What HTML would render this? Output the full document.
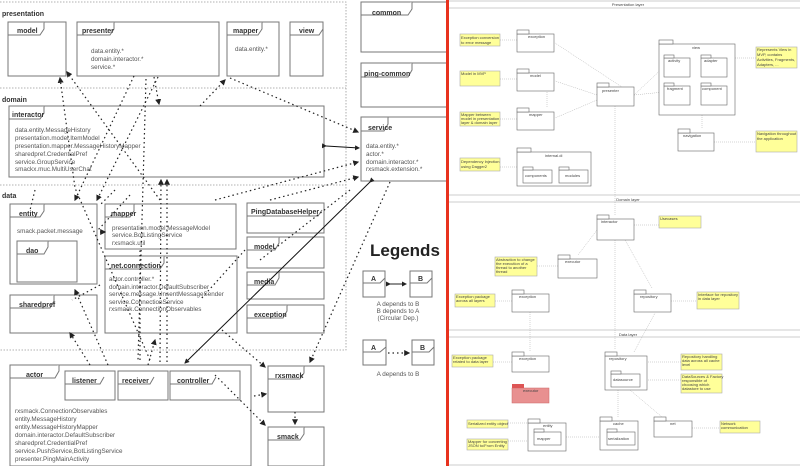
<!DOCTYPE html><html><head><meta charset="utf-8"><style>
body{margin:0;background:#fff;width:800px;height:466px;overflow:hidden}
svg{font-family:"Liberation Sans",sans-serif}
.b{fill:#fff;stroke:#777;stroke-width:1}
.t{font-size:7px;font-weight:bold;fill:#333}
.s{font-size:6.3px;fill:#555}
.d{stroke:#222;stroke-width:1.2;stroke-dasharray:1.5 3;fill:none}
.r{font-size:4px;fill:#444}
.n{fill:#ffff99;stroke:#aaa;stroke-width:.6}
.p{fill:#fff;stroke:#666;stroke-width:.6}
.g{stroke:#aaa;stroke-width:.5;stroke-dasharray:1 1;fill:none}
</style></head><body>
<svg width="800" height="466" viewBox="0 0 800 466">
<defs><marker id="a" markerWidth="5" markerHeight="5" refX="4" refY="2.5" orient="auto"><path d="M0,0L5,2.5L0,5z" fill="#222"/></marker></defs>
<!-- regions -->
<path d="M0,2H346V350H0M0,88H346M0,185H346" stroke="#999" stroke-dasharray="1.5 1.5" fill="none" stroke-width=".8"/>
<text x="2" y="16" class="t">presentation</text><text x="2" y="102" class="t">domain</text><text x="2" y="198" class="t">data</text>
<g id="pk">
<rect class="b" x="8" y="22" width="58" height="54"/><path d="M8,35H40L44,29V22" class="b"/><text x="17" y="33" class="t">model</text>
<rect class="b" x="77" y="22" width="142" height="54"/><path d="M77,35H110L114,29V22" class="b"/><text x="82" y="33" class="t">presenter</text>
<text x="91" y="53" class="s">data.entity.*</text><text x="91" y="61" class="s">domain.interactor.*</text><text x="91" y="69" class="s">service.*</text>
<rect class="b" x="227" y="22" width="52" height="54"/><path d="M227,35H258L262,29V22" class="b"/><text x="233" y="33" class="t">mapper</text><text x="235" y="51" class="s">data.entity.*</text>
<rect class="b" x="290" y="22" width="33" height="54"/><path d="M290,35H319L323,29" class="b"/><text x="299" y="33" class="t">view</text>
<rect class="b" x="9" y="106" width="315" height="71"/><path d="M9,119H40L44,113V106" class="b"/><text x="12" y="117" class="t">interactor</text>
<text x="15" y="132" class="s">data.entity.MessageHistory</text><text x="15" y="140" class="s">presentation.model.ItemModel</text><text x="15" y="148" class="s">presentation.mapper.MessageHistoryMapper</text><text x="15" y="156" class="s">sharedpref.CredentialPref</text><text x="15" y="164" class="s">service.GroupService</text><text x="15" y="171" class="s">smackx.muc.MultiUserChat</text>
<rect class="b" x="361" y="2" width="86" height="50"/><path d="M361,15H408L412,9V2" class="b"/><text x="372" y="15" class="t">common</text>
<rect class="b" x="361" y="63" width="86" height="44"/><path d="M361,77H408L412,70V63" class="b"/><text x="364" y="76" class="t">ping-common</text>
<rect class="b" x="361" y="117" width="86" height="64"/><path d="M361,131H384L388,124V117" class="b"/><text x="368" y="130" class="t">service</text>
<text x="366" y="148" class="s">data.entity.*</text><text x="366" y="156" class="s">actor.*</text><text x="366" y="164" class="s">domain.interactor.*</text><text x="366" y="171" class="s">rxsmack.extension.*</text>
<rect class="b" x="10" y="204" width="87" height="80"/><path d="M10,217H40L44,211V204" class="b"/><text x="19" y="216" class="t">entity</text><text x="17" y="233" class="s">smack.packet.message</text>
<rect class="b" x="17" y="241" width="60" height="41"/><path d="M17,254H44L48,247V241" class="b"/><text x="26" y="253" class="t">dao</text>
<rect class="b" x="105" y="204" width="131" height="45"/><path d="M105,217H130L134,211V204" class="b"/><text x="111" y="216" class="t">mapper</text>
<text x="112" y="230" class="s">presentation.model.MessageModel</text><text x="112" y="237" class="s">service.BotListingService</text><text x="112" y="245" class="s">rxsmack.util</text>
<rect class="b" x="105" y="256" width="132" height="77"/><path d="M105,269H160L164,263V256" class="b"/><text x="111" y="268" class="t">net.connection</text>
<text x="109" y="281" class="s">actor.controller.*</text><text x="109" y="289" class="s">domain.interactor.DefaultSubscriber</text><text x="109" y="296" class="s">service.message.UnsentMessageSender</text><text x="109" y="304" class="s">service.ConnectionService</text><text x="109" y="311" class="s">rxsmack.ConnectionObservables</text>
<rect class="b" x="247" y="203" width="77" height="30"/><path d="M247,216H318L322,210" class="b"/><text x="251" y="214" class="t">PingDatabaseHelper</text>
<rect class="b" x="247" y="237" width="77" height="31"/><path d="M247,250H275L279,243V237" class="b"/><text x="254" y="249" class="t">model</text>
<rect class="b" x="247" y="272" width="77" height="27"/><path d="M247,285H275L279,278V272" class="b"/><text x="254" y="284" class="t">media</text>
<rect class="b" x="247" y="305" width="77" height="28"/><path d="M247,318H283L287,311V305" class="b"/><text x="254" y="317" class="t">exception</text>
<rect class="b" x="10" y="295" width="87" height="38"/><path d="M10,308H50L54,301V295" class="b"/><text x="19" y="307" class="t">sharedpref</text>
<rect class="b" x="10" y="365" width="241" height="101"/><path d="M10,378H55L59,371V365" class="b"/><text x="26" y="377" class="t">actor</text>
<rect class="b" x="65" y="371" width="50" height="29"/><path d="M65,384H100L104,377" class="b"/><text x="72" y="383" class="t">listener</text>
<rect class="b" x="118" y="371" width="50" height="29"/><path d="M118,384H150L154,377" class="b"/><text x="122" y="383" class="t">receiver</text>
<rect class="b" x="170" y="371" width="70" height="29"/><path d="M170,384H212L216,377" class="b"/><text x="177" y="383" class="t">controller</text>
<text x="15" y="413" class="s">rxsmack.ConnectionObservables</text><text x="15" y="421" class="s">entity.MessageHistory</text><text x="15" y="429" class="s">entity.MessageHistoryMapper</text><text x="15" y="437" class="s">domain.interactor.DefaultSubscriber</text><text x="15" y="445" class="s">sharedpref.CredentialPref</text><text x="15" y="453" class="s">service.PushService,BotListingService</text><text x="15" y="461" class="s">presenter.PingMainActivity</text>
<rect class="b" x="268" y="366" width="56" height="46"/><path d="M268,379H300L304,373V366" class="b"/><text x="275" y="378" class="t">rxsmack</text>
<rect class="b" x="268" y="427" width="56" height="39"/><path d="M268,440H300L304,434V427" class="b"/><text x="277" y="439" class="t">smack</text>
</g>
<!-- legend -->
<text x="370" y="256" font-size="17" font-weight="bold" fill="#222">Legends</text>
<rect class="b" x="363" y="271" width="22" height="26"/><path d="M363,283H380L385,278" class="b"/><text x="371" y="281" class="t">A</text>
<rect class="b" x="410" y="271" width="22" height="26"/><path d="M410,283H427L432,278" class="b"/><text x="418" y="281" class="t">B</text>
<line x1="390" y1="284" x2="406" y2="284" stroke="#222" marker-end="url(#a)" marker-start="url(#a)"/>
<text x="398" y="306" class="s" text-anchor="middle">A depends to B</text><text x="398" y="313" class="s" text-anchor="middle">B depends to A</text><text x="398" y="320" class="s" text-anchor="middle">(Circular Dep.)</text>
<rect class="b" x="363" y="340" width="23" height="25"/><path d="M363,352H380L386,347" class="b"/><text x="371" y="350" class="t">A</text>
<rect class="b" x="412" y="340" width="22" height="25"/><path d="M412,352H429L434,347" class="b"/><text x="420" y="350" class="t">B</text>
<line x1="388" y1="353" x2="409" y2="353" class="d" marker-end="url(#a)"/>
<text x="398" y="376" class="s" text-anchor="middle">A depends to B</text>
<!-- arrows left -->
<g class="d">
<path d="M134,76L75,200" marker-end="url(#a)"/><path d="M158,77L97,200" marker-end="url(#a)"/><path d="M146,79L138,360"/><path d="M154,77L159,104" marker-end="url(#a)"/>
<path d="M200,106L225,80" marker-end="url(#a)"/><path d="M230,78L358,132" marker-end="url(#a)"/>
<path d="M160,200L67,72" marker-end="url(#a)"/><path d="M150,360L75,188L60,78" marker-end="url(#a)"/>
<path d="M160,362L161,180" marker-end="url(#a)"/><path d="M167,362L167,180" marker-end="url(#a)"/>
<path d="M215,200L358,162" marker-end="url(#a)"/><path d="M270,200L358,177" marker-end="url(#a)"/>
<path d="M100,232L105,232" marker-end="url(#a)"/><path d="M130,195L98,230"/><path d="M245,250L200,300"/>
<path d="M35,190L30,210"/><path d="M115,190L100,205"/>
<path d="M90,365L70,333" marker-end="url(#a)"/><path d="M108,365L75,290" marker-end="url(#a)"/>
<path d="M100,285L72,300" /><path d="M140,360L140,250"/><path d="M148,365L155,340" marker-end="url(#a)"/>
<path d="M222,330L265,367" marker-end="url(#a)"/><path d="M215,375L265,425" marker-end="url(#a)"/>
<path d="M254,396L266,394" marker-end="url(#a)"/><path d="M295,412L295,424" marker-end="url(#a)"/>
<path d="M390,182L310,362" marker-end="url(#a)"/><path d="M350,190L260,260"/>
</g>
<path d="M370,182L185,363" stroke="#111" stroke-width="1" marker-end="url(#a)" marker-start="url(#a)" fill="none"/>
<line x1="326" y1="146" x2="359" y2="148" stroke="#111" marker-end="url(#a)" marker-start="url(#a)"/>
<!-- red line -->
<rect x="446" y="0" width="3" height="466" fill="#e8321e"/>
<!-- right diagram -->
<g>
<path d="M449,1H800M449,8H800M449,195H800M449,202H800M449,330H800M449,337H800M449,465H800" stroke="#999" stroke-width=".6"/>
<text x="628" y="6" class="r" text-anchor="middle">Presentation layer</text>
<text x="628" y="201" class="r" text-anchor="middle">Domain layer</text>
<text x="628" y="336" class="r" text-anchor="middle">Data layer</text>
<g class="g">
<path d="M500,40H517M500,79H517M500,119H517M500,167H517M735,58H756M714,142H756M634,95L555,43M597,95L555,81M597,100L555,118M634,95L667,64M634,95L664,92M615,106V215M702,115V128M634,225H659M597,230L578,255M537,266H558M495,301H512M671,301H697M615,240V350M625,240L652,288M530,312V352M493,362H512M640,362H681M640,380H681M508,423H528M508,441H534M560,437H607M618,390V417M630,390L662,417M692,428H720M634,352L655,313M547,92V108"/>
</g>
<g class="p">
<rect x="517" y="34" width="37" height="18"/><rect x="517" y="30" width="12" height="4"/>
<rect x="517" y="73" width="37" height="18"/><rect x="517" y="69" width="12" height="4"/>
<rect x="517" y="112" width="37" height="18"/><rect x="517" y="108" width="12" height="4"/>
<rect x="517" y="152" width="74" height="34"/><rect x="517" y="148" width="14" height="4"/>
<rect x="523" y="170" width="29" height="13"/><rect x="523" y="167" width="10" height="3"/>
<rect x="559" y="170" width="29" height="13"/><rect x="559" y="167" width="10" height="3"/>
<rect x="597" y="87" width="37" height="19"/><rect x="597" y="83" width="12" height="4"/>
<rect x="659" y="44" width="76" height="71"/><rect x="659" y="40" width="14" height="4"/>
<rect x="664" y="58" width="26" height="19"/><rect x="664" y="55" width="10" height="3"/>
<rect x="701" y="58" width="26" height="19"/><rect x="701" y="55" width="10" height="3"/>
<rect x="664" y="86" width="26" height="19"/><rect x="664" y="83" width="10" height="3"/>
<rect x="701" y="86" width="26" height="19"/><rect x="701" y="83" width="10" height="3"/>
<rect x="678" y="133" width="36" height="18"/><rect x="678" y="129" width="12" height="4"/>
<rect x="597" y="219" width="37" height="21"/><rect x="597" y="215" width="12" height="4"/>
<rect x="558" y="259" width="39" height="19"/><rect x="558" y="255" width="12" height="4"/>
<rect x="512" y="294" width="37" height="18"/><rect x="512" y="290" width="12" height="4"/>
<rect x="634" y="294" width="37" height="18"/><rect x="634" y="290" width="12" height="4"/>
<rect x="512" y="356" width="37" height="16"/><rect x="512" y="352" width="12" height="4"/>
<rect x="605" y="356" width="42" height="34"/><rect x="605" y="352" width="12" height="4"/>
<rect x="611" y="374" width="29" height="13"/><rect x="611" y="371" width="10" height="3"/>
<rect x="528" y="423" width="38" height="28"/><rect x="528" y="419" width="12" height="4"/>
<rect x="534" y="432" width="27" height="13"/><rect x="534" y="429" width="10" height="3"/>
<rect x="600" y="421" width="38" height="29"/><rect x="600" y="417" width="12" height="4"/>
<rect x="607" y="432" width="28" height="13"/><rect x="607" y="429" width="10" height="3"/>
<rect x="654" y="421" width="38" height="16"/><rect x="654" y="417" width="12" height="4"/>
</g>
<rect x="512" y="388" width="37" height="15" fill="#e89090" stroke="#c66" stroke-width=".5"/><rect x="512" y="384" width="12" height="4" fill="#d55" />
<g class="n">
<rect x="460" y="34" width="40" height="12"/><rect x="460" y="71" width="40" height="15"/><rect x="460" y="112" width="40" height="14"/><rect x="460" y="158" width="40" height="13"/>
<rect x="756" y="47" width="41" height="21"/><rect x="756" y="131" width="41" height="21"/><rect x="659" y="216" width="42" height="12"/>
<rect x="495" y="257" width="42" height="19"/><rect x="455" y="294" width="40" height="13"/><rect x="697" y="292" width="42" height="17"/>
<rect x="452" y="355" width="41" height="12"/><rect x="681" y="354" width="41" height="16"/><rect x="681" y="374" width="41" height="19"/>
<rect x="467" y="420" width="41" height="8"/><rect x="467" y="439" width="41" height="11"/><rect x="720" y="421" width="40" height="12"/>
</g>
<g class="r">
<text x="528" y="38">exception</text><text x="530" y="77">model</text><text x="529" y="116">mapper</text><text x="545" y="157">internal.di</text>
<text x="525" y="177">components</text><text x="565" y="177">modules</text><text x="602" y="92">presenter</text><text x="692" y="49">view</text>
<text x="668" y="62">activity</text><text x="704" y="62">adapter</text><text x="667" y="90">fragment</text><text x="702" y="90">component</text>
<text x="683" y="137">navigation</text><text x="601" y="223">interactor</text><text x="565" y="263">executor</text><text x="519" y="298">exception</text>
<text x="640" y="298">repository</text><text x="519" y="360">exception</text><text x="523" y="392">executor</text><text x="609" y="360">repository</text>
<text x="613" y="381">datasource</text><text x="543" y="427">entity</text><text x="537" y="440">mapper</text><text x="613" y="425">cache</text><text x="608" y="440">serialization</text><text x="670" y="425">net</text>
<text x="461" y="39">Exception conversion</text><text x="461" y="44">to error message</text><text x="461" y="75">Model in MVP</text>
<text x="461" y="116">Mapper between</text><text x="461" y="120">model in presentation</text><text x="461" y="124">layer &amp; domain layer</text>
<text x="461" y="163">Dependency Injection</text><text x="461" y="168">using Dagger2</text>
<text x="757" y="51">Represents View in</text><text x="757" y="56">MVP, contains</text><text x="757" y="61">Activities, Fragments,</text><text x="757" y="66">Adapters, ...</text>
<text x="757" y="135">Navigation throughout</text><text x="757" y="140">the application</text><text x="660" y="220">Usecases</text>
<text x="496" y="261">Abstraction to change</text><text x="496" y="265">the execution of a</text><text x="496" y="269">thread to another</text><text x="496" y="273">thread</text>
<text x="456" y="298">Exception package</text><text x="456" y="302">across all layers</text><text x="698" y="296">Interface for repository</text><text x="698" y="300">in data layer</text>
<text x="453" y="359">Exception package</text><text x="453" y="363">related to data layer</text>
<text x="682" y="358">Repository handling</text><text x="682" y="362">data across all cache</text><text x="682" y="366">level</text>
<text x="682" y="378">DataSources &amp; Factory</text><text x="682" y="382">responsible of</text><text x="682" y="386">choosing which</text><text x="682" y="390">datastore to use</text>
<text x="468" y="425">Serialized entity object</text><text x="468" y="443">Mapper for converting</text><text x="468" y="447">JSON to/From Entity</text>
<text x="721" y="425">Network</text><text x="721" y="429">communication</text>
</g>
</g>
</svg></body></html>
